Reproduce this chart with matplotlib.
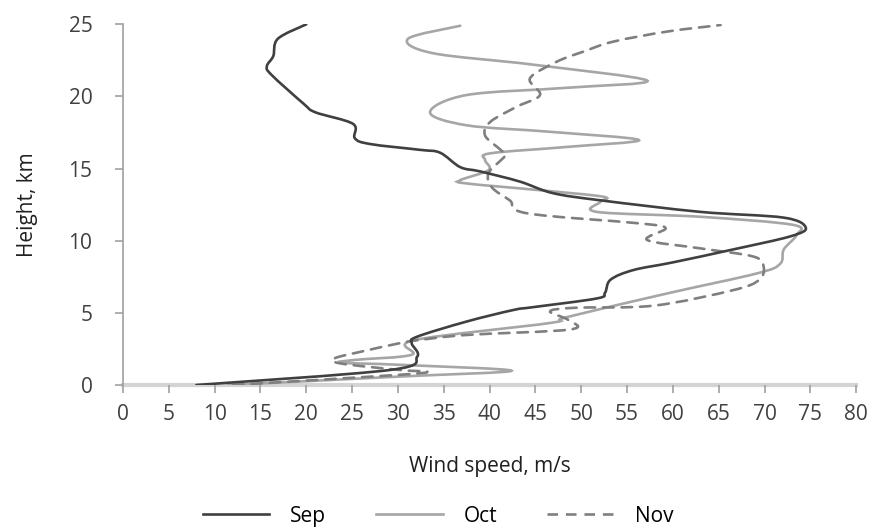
"""
Wind speed profiles by month
"""
import matplotlib
matplotlib.use('Agg')
import matplotlib.pyplot as plt
import numpy as np
from matplotlib.path import Path
from matplotlib.patches import PathPatch
from matplotlib.lines import Line2D

plt.rcParams['font.family'] = ['Open Sans', 'DejaVu Sans']

# data (speed m/s, height km)
sep_speed = [8.0, 29.1, 32.1, 31.5, 32.1, 37.5, 42.6, 44.8, 51.7, 52.6, 53.2, 55.7, 60.0, 66.6,
             72.8, 74.5, 72.1, 63.0, 52.1, 46.9, 43.3, 39.0, 36.8, 34.6, 32.4, 27.0, 25.3, 25.1,
             21.0, 19.7, 16.2, 15.7, 16.4, 16.9, 20.0]
sep_height = [0.0, 1.04, 1.96, 2.9, 3.35, 4.4, 5.2, 5.4, 6.0, 6.4, 7.3, 7.97, 8.5, 9.4,
              10.3, 10.9, 11.6, 12.0, 12.8, 13.3, 14.1, 14.8, 15.1, 16.1, 16.3, 16.7, 17.1, 18.1,
              18.9, 19.5, 21.5, 22.1, 22.8, 24.0, 25.0]

oct_speed = [11.5, 30.0, 42.4, 30.2, 23.7, 25.5, 31.5, 31.7, 46.6, 48.4, 59.4, 69.2, 71.7, 72.1,
             73.5, 73.1, 63.0, 51.7, 52.1, 52.4, 45.5, 37.5, 36.8, 39.9, 39.5, 40.1, 48.4, 56.3,
             46.6, 37.5, 33.5, 37.5, 48.4, 57.2, 44.8, 33.8, 31.1, 36.8]
oct_height = [0.0, 0.58, 0.99, 1.4, 1.55, 1.75, 2.1, 3.1, 4.3, 4.7, 6.35, 7.74, 8.4, 9.4,
              10.4, 11.1, 11.66, 12.0, 12.7, 13.05, 13.5, 13.97, 14.2, 14.9, 15.6, 16.06, 16.5, 16.98,
              17.55, 18.0, 18.9, 20.1, 20.6, 21.1, 22.2, 23.0, 24.0, 24.9]

nov_speed = [12.0, 30.0, 33.2, 30.2, 23.7, 23.1, 25.9, 30.2, 32.1, 37.5, 48.8, 48.6, 46.6, 49.2,
             57.9, 66.6, 69.4, 69.9, 68.8, 63.0, 57.2, 59.2, 56.4, 44.1, 42.2, 40.25, 39.9, 41.7,
             41.2, 39.5, 40.1, 43.0, 45.5, 44.4, 47.3, 50.2, 53.5, 59.4, 65.2]
nov_height = [0.0, 0.7, 0.92, 1.04, 1.5, 1.85, 2.3, 2.9, 3.1, 3.47, 3.85, 4.5, 5.1, 5.35,
              5.5, 6.58, 7.28, 8.2, 8.9, 9.47, 10.05, 10.86, 11.2, 11.9, 12.8, 13.7, 14.7, 15.9,
              16.3, 17.3, 18.25, 19.3, 20.1, 21.25, 22.4, 23.1, 23.8, 24.5, 24.95]

series = [
    ('Sep', sep_speed, sep_height, '#404040', '-'),
    ('Oct', oct_speed, oct_height, '#a6a6a6', '-'),
    ('Nov', nov_speed, nov_height, '#7f7f7f', (0, (4, 3))),
]


def smooth_path(xs, ys):
    # smoothed line like Excel: bezier segments through the points
    p = np.column_stack([xs, ys])
    pp = np.vstack([p[0], p, p[-1]])
    verts = [p[0]]
    codes = [Path.MOVETO]
    for i in range(1, len(pp) - 2):
        c1 = pp[i] + (pp[i + 1] - pp[i - 1]) / 6
        c2 = pp[i + 1] - (pp[i + 2] - pp[i]) / 6
        verts += [c1, c2, pp[i + 1]]
        codes += [Path.CURVE4] * 3
    return Path(verts, codes)


fig = plt.figure(figsize=(8.76, 5.32), dpi=100)
ax = fig.add_axes([0.1404, 0.2763, 0.837, 0.678])

handles = []
for i, (name, xs, ys, col, ls) in enumerate(series):
    z = 3 if name == 'Sep' else 2
    ax.add_patch(PathPatch(smooth_path(xs, ys), fill=False, edgecolor=col, lw=1.9,
                           ls=ls, zorder=z, capstyle='round'))
    handles.append(Line2D([], [], color=col, lw=1.9, ls=ls, label=name))

ax.set_xlim(0, 80)
ax.set_ylim(0, 25)
ax.set_xticks(range(0, 81, 5))
ax.set_yticks(range(0, 26, 5))

for s in ['top', 'right']:
    ax.spines[s].set_visible(False)
ax.spines['left'].set_color('#a0a0a0')
ax.spines['left'].set_linewidth(1.2)
ax.spines['bottom'].set_color('#d4d4d4')
ax.spines['bottom'].set_linewidth(3)
ax.spines['bottom'].set_zorder(1)
ax.tick_params(axis='both', colors='#a0a0a0', labelcolor='#404040', labelsize=15, length=6, width=1.2)
ax.tick_params(axis='y', pad=16)
ax.tick_params(axis='x', pad=8)

ax.set_xlabel('Wind speed, m/s', fontsize=15, color='#202020', labelpad=22)
ax.set_ylabel('Height, km', fontsize=15, color='#202020', labelpad=22)

fig.legend(handles=handles, loc='center', bbox_to_anchor=(0.5, 0.03), ncol=3, frameon=False,
           fontsize=15, handlelength=3.2, handletextpad=1.0, columnspacing=2.4)

plt.savefig('out.png', dpi=100)
